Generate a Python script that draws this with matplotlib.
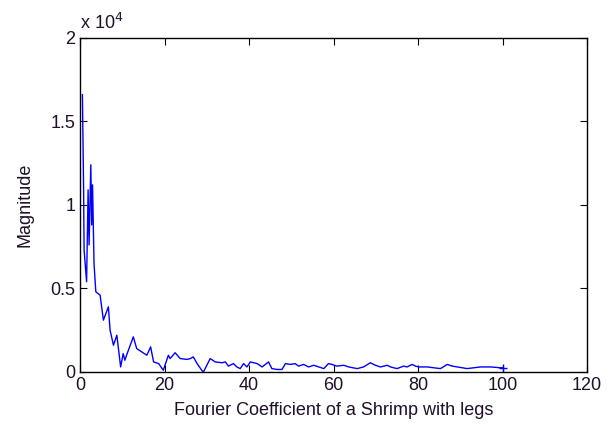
import matplotlib
matplotlib.use("Agg")
import matplotlib.pyplot as plt
import numpy as np

plt.rcParams['font.family'] = ['Liberation Sans', 'DejaVu Sans']

# vertices of the trace (coefficient index, magnitude)
coef_idx = [0.55, 0.83, 0.95, 1.54, 1.9, 2.13, 2.54, 2.75, 2.95, 3.3, 3.72,
            4.74, 5.52, 6.7, 7.1, 7.9, 8.7, 9.6, 10.2, 10.6, 11.0, 12.6,
            13.4, 14.6, 15.8, 16.7, 17.4, 18.6, 19.7, 20.9, 21.3, 22.5,
            23.7, 25.3, 26.1, 26.8, 27.7, 28.8, 29.2, 30.8, 32.0, 33.6,
            34.4, 35.1, 36.3, 37.1, 37.9, 38.7, 39.5, 40.3, 41.9, 43.1,
            44.6, 45.4, 46.6, 47.8, 48.6, 49.8, 50.9, 51.7, 52.9, 54.1,
            55.3, 56.5, 57.7, 58.8, 59.6, 60.8, 62.4, 63.6, 65.6, 67.1,
            68.7, 69.9, 71.1, 72.7, 73.5, 75.0, 76.6, 77.4, 78.6, 79.4,
            80.2, 82.2, 83.7, 85.3, 86.9, 88.1, 89.3, 90.5, 91.6, 93.2,
            94.8, 97.2, 99.5, 100.0]
magnitude = [16600, 11000, 7300, 5400, 10900, 7600, 12400, 8800, 11200, 6500, 4800,
             4600, 3100, 3900, 2500, 1600, 2200, 300, 1100, 700, 1000, 2100,
             1400, 1200, 1000, 1500, 600, 500, 100, 1000, 800, 1150,
             800, 750, 800, 900, 500, 100, 0, 800, 600, 550,
             600, 350, 500, 300, 200, 500, 300, 600, 500, 300,
             600, 200, 150, 150, 500, 450, 500, 350, 450, 300,
             400, 300, 200, 500, 450, 350, 400, 300, 200, 300,
             550, 400, 300, 400, 300, 200, 350, 300, 450, 350,
             300, 300, 250, 200, 450, 350, 300, 250, 200, 250,
             300, 300, 250, 250]

xticks = [0, 20, 40, 60, 80, 100, 120]
yticks = [0, 5000, 10000, 15000, 20000]
ytick_labels = ['0', '0.5', '1', '1.5', '2']

txt_color = '#20102a'

fig = plt.figure(figsize=(6.16, 4.30), dpi=100)
ax = fig.add_axes([0.130, 0.135, 0.823, 0.777])

ax.plot(coef_idx, magnitude, color='#0000ff', linewidth=1.0)
ax.plot(coef_idx[-1], magnitude[-1], marker='+', color='#0000ff', markersize=6)

ax.set_xlim(0, 120)
ax.set_ylim(0, 20000)
ax.set_xticks(xticks)
ax.set_yticks(yticks)
ax.set_yticklabels(ytick_labels)
ax.tick_params(direction='in', top=True, right=True, labelsize=13, length=5,
               labelcolor=txt_color)
for s in ax.spines.values():
    s.set_linewidth(1.0)

ax.set_xlabel('Fourier Coefficient of a Shrimp with legs', fontsize=13,
              labelpad=6, color=txt_color)
ax.set_ylabel('Magnitude', fontsize=13, labelpad=12, color=txt_color)
ax.text(0.0, 1.015, r'x 10$^{4}$', transform=ax.transAxes, fontsize=13,
        ha='left', va='bottom', color=txt_color)

fig.savefig('out.png', dpi=100)
